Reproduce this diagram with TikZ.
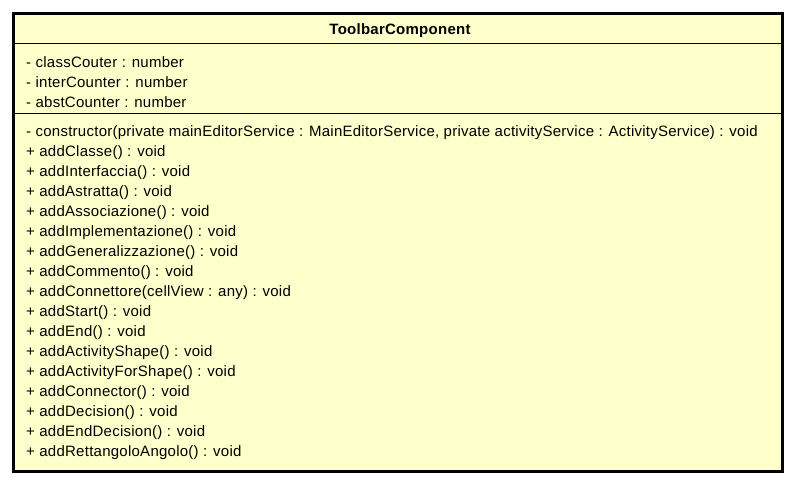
\documentclass[tikz,border=0pt]{standalone}
\usepackage{fontspec}
\setmainfont{Liberation Sans}[LetterSpace=1.7]
\usetikzlibrary{positioning}
\definecolor{classfill}{HTML}{FFFFCC}
\tikzset{
	member/.style={anchor=west, inner sep=0pt, font=\fontsize{15}{17}\selectfont},
	classtitle/.style={inner sep=0pt, font=\fontsize{15}{17}\selectfont\bfseries}
}

\begin{document}
\begin{tikzpicture}[x=1pt, y=-1pt]
		\useasboundingbox (0,0) rectangle (796,485);
		\draw[line width=3pt, fill=classfill] (13.5,13.5) rectangle (782.5,471.5);
		\draw[line width=1pt] (12,43.5) -- (784,43.5);
		\draw[line width=1pt] (12,113.5) -- (784,113.5);

		\node[classtitle] (title) at (400, 30.5) {ToolbarComponent};

		% attributes
		\node[member] (a1) at (26, 62) {- classCouter : number};
		\node[member] (a2) at (26, 82) {- interCounter : number};
		\node[member] (a3) at (26, 102) {- abstCounter : number};

		% operations
		\foreach \txt [count=\i from 0] in {%
			{- constructor(private mainEditorService : MainEditorService, private activityService : ActivityService) : void},
			{+ addClasse() : void},
			{+ addInterfaccia() : void},
			{+ addAstratta() : void},
			{+ addAssociazione() : void},
			{+ addImplementazione() : void},
			{+ addGeneralizzazione() : void},
			{+ addCommento() : void},
			{+ addConnettore(cellView : any) : void},
			{+ addStart() : void},
			{+ addEnd() : void},
			{+ addActivityShape() : void},
			{+ addActivityForShape() : void},
			{+ addConnector() : void},
			{+ addDecision() : void},
			{+ addEndDecision() : void},
			{+ addRettangoloAngolo() : void}}{
			\node[member] (m\i) at (26, 133+20*\i) {\txt};
		}

	\end{tikzpicture}
\end{document}
